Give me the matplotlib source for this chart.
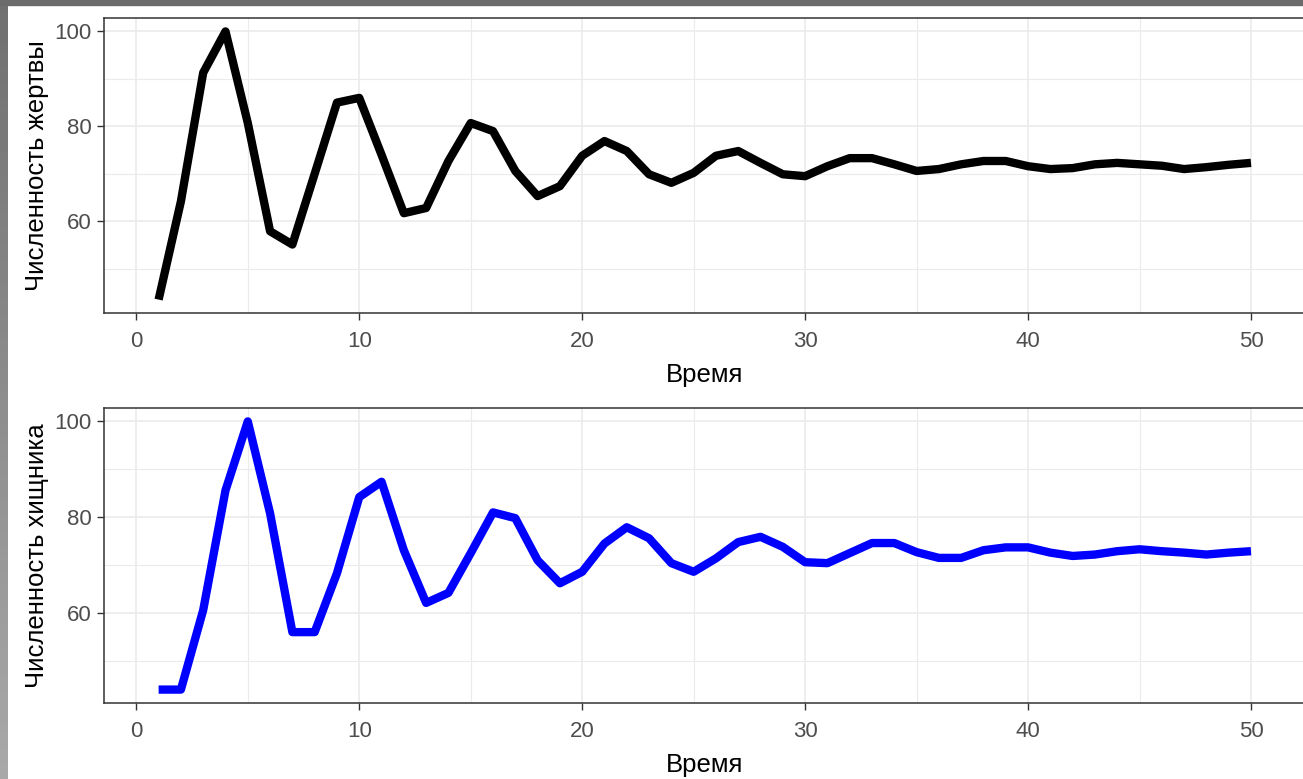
import numpy as np
import matplotlib
matplotlib.use('Agg')
import matplotlib.pyplot as plt
from matplotlib.patches import Rectangle

plt.rcParams['font.family'] = ['Liberation Sans', 'DejaVu Sans']

# ── данные ───────────────────────────────────────────────────
time = list(range(1, 51))
prey = [43.5, 64.2, 91.3, 100.0, 80.7, 57.9, 55.1, 70.0, 85.0, 86.0,
        74.0, 61.7, 62.8, 72.7, 80.7, 79.0, 70.6, 65.3, 67.4, 73.8,
        76.9, 74.8, 69.9, 68.1, 70.2, 73.8, 74.8, 72.3, 69.9, 69.5,
        71.6, 73.3, 73.3, 72.0, 70.6, 71.0, 72.0, 72.7, 72.7, 71.6,
        71.0, 71.2, 72.0, 72.3, 72.0, 71.7, 71.0, 71.4, 71.9, 72.3]
predator = [44.0, 44.0, 60.6, 85.6, 100.0, 80.8, 56.0, 56.0, 68.3, 84.2,
            87.4, 73.1, 62.1, 64.2, 72.5, 81.0, 79.8, 71.0, 66.2, 68.6,
            74.5, 77.9, 75.6, 70.4, 68.6, 71.4, 74.8, 75.9, 73.8, 70.6,
            70.4, 72.5, 74.6, 74.6, 72.7, 71.5, 71.5, 73.1, 73.7, 73.7,
            72.6, 71.9, 72.2, 72.9, 73.3, 72.9, 72.6, 72.2, 72.6, 72.9]
x_label = "Время"
y_labels = ["Численность жертвы", "Численность хищника"]
colors = ["black", "#0000FF"]

W, H = 1303, 779
fig = plt.figure(figsize=(W / 100, H / 100), dpi=100)

# рамка скриншота
fig.patches.append(Rectangle((0, 1 - 5 / H), 1, 5 / H, transform=fig.transFigure,
                             color='#6b6b6b', zorder=0))
grad_ax = fig.add_axes([0, 0, 8 / W, 1 - 5 / H])
grad_ax.imshow(np.linspace(0.44, 0.66, 100).reshape(-1, 1), cmap='gray', aspect='auto',
               vmin=0, vmax=1, extent=(0, 1, 0, 1), origin='upper')
grad_ax.axis('off')


def expand(vals, frac=0.05):
    lo, hi = min(vals), max(vals)
    d = (hi - lo) * frac
    return lo - d, hi + d


def panel(rect, series, color, ylabel):
    ax = fig.add_axes(rect)
    ax.plot(time, series, color=color, linewidth=6, solid_capstyle='butt',
            solid_joinstyle='round', zorder=3)
    ax.set_xlim(*expand(time))
    ax.set_ylim(*expand(series))
    ax.set_xticks([0, 10, 20, 30, 40, 50])
    ax.set_xticks([5, 15, 25, 35, 45], minor=True)
    ax.set_yticks([60, 80, 100])
    ax.set_yticks([50, 70, 90], minor=True)
    ax.grid(which='major', color='#ebebeb', linewidth=1.2, zorder=0)
    ax.grid(which='minor', color='#ebebeb', linewidth=0.8, zorder=0)
    ax.set_axisbelow(True)
    for s in ax.spines.values():
        s.set_color('#333333')
        s.set_linewidth(1.1)
    ax.tick_params(which='major', length=5, width=1, color='#333333',
                   labelcolor='#4d4d4d', labelsize=16)
    ax.tick_params(axis='x', pad=8)
    ax.tick_params(axis='y', pad=4)
    ax.tick_params(which='minor', length=0)
    ax.set_xlabel(x_label, fontsize=18.5, labelpad=8)
    ax.set_ylabel(ylabel, fontsize=18.5, labelpad=4)
    return ax


left = 104 / W
width = (1305.6 - 104) / W
ph = 295 / H
panel([left, 1 - 313 / H, width, ph], prey, colors[0], y_labels[0])
panel([left, 1 - 703 / H, width, ph], predator, colors[1], y_labels[1])

fig.savefig("out.png", dpi=100)
